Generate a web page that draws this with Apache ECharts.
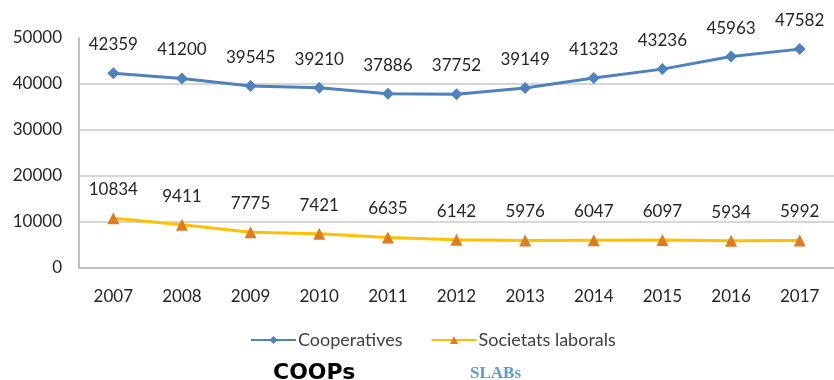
<!DOCTYPE html>
<html>
<head>
<meta charset="utf-8">
<script src="https://cdn.jsdelivr.net/npm/echarts@6/dist/echarts.min.js"></script>
<style>html,body{margin:0;padding:0;background:#fff;}#c{width:834px;height:380px;}</style>
</head>
<body>
<div id="c"></div>
<script>
const years = ['2007','2008','2009','2010','2011','2012','2013','2014','2015','2016','2017'];
const cooperatives = [42359,41200,39545,39210,37886,37752,39149,41323,43236,45963,47582];
const societats = [10834,9411,7775,7421,6635,6142,5976,6047,6097,5934,5992];
const yTicks = [0,10000,20000,30000,40000,50000];

const chart = echarts.init(document.getElementById('c'));
const font = 'Lato, "Open Sans", sans-serif';
const txt = '#262626';
chart.setOption({
  animation: false,
  backgroundColor: '#fff',
  grid: {left: 79, right: 0, top: 38, bottom: 112},
  xAxis: {
    type: 'category', data: years, boundaryGap: true,
    axisLine: {lineStyle: {color: '#bfbfbf', width: 2}},
    axisTick: {show: false},
    axisLabel: {color: txt, fontSize: 17, fontFamily: font, margin: 20}
  },
  yAxis: {
    type: 'value', min: yTicks[0], max: yTicks[yTicks.length-1], interval: 10000,
    axisLine: {show: true, lineStyle: {color: '#bfbfbf', width: 2}},
    axisTick: {show: false},
    splitLine: {show: true, showMaxLine: false, lineStyle: {color: '#c8c8c8', width: 1.5}},
    axisLabel: {color: txt, fontSize: 17, fontFamily: font, margin: 17, formatter: v => String(v)}
  },
  legend: {
    bottom: 26, left: 245, itemWidth: 45, itemHeight: 10, itemGap: 28,
    textStyle: {color: '#404040', fontSize: 18, fontFamily: font, padding: [0, 0, 0, -3]},
    data: ['Cooperatives', 'Societats laborals']
  },
  series: [
    {
      name: 'Cooperatives', type: 'line', data: cooperatives,
      symbol: 'diamond', symbolSize: 12,
      lineStyle: {color: '#4f81bd', width: 3},
      itemStyle: {color: '#4f81bd'},
      label: {show: true, position: 'top', distance: 14, color: txt, fontSize: 17, fontFamily: font}
    },
    {
      name: 'Societats laborals', type: 'line', data: societats,
      symbol: 'triangle', symbolSize: 12,
      lineStyle: {color: '#ffc000', width: 3},
      itemStyle: {color: '#e07b22'},
      label: {show: true, position: 'top', distance: 14, color: txt, fontSize: 17, fontFamily: font}
    }
  ],
  graphic: [
    {type: 'text', left: 273, top: 362, style: {text: 'COOPs', fill: '#000', font: 'bold 22px "DejaVu Sans", sans-serif'}},
    {type: 'text', left: 470, top: 365, style: {text: 'SLABs', fill: '#5b9bd5', font: 'bold 17px "Liberation Serif", serif'}}
  ]
});
</script>
</body>
</html>
